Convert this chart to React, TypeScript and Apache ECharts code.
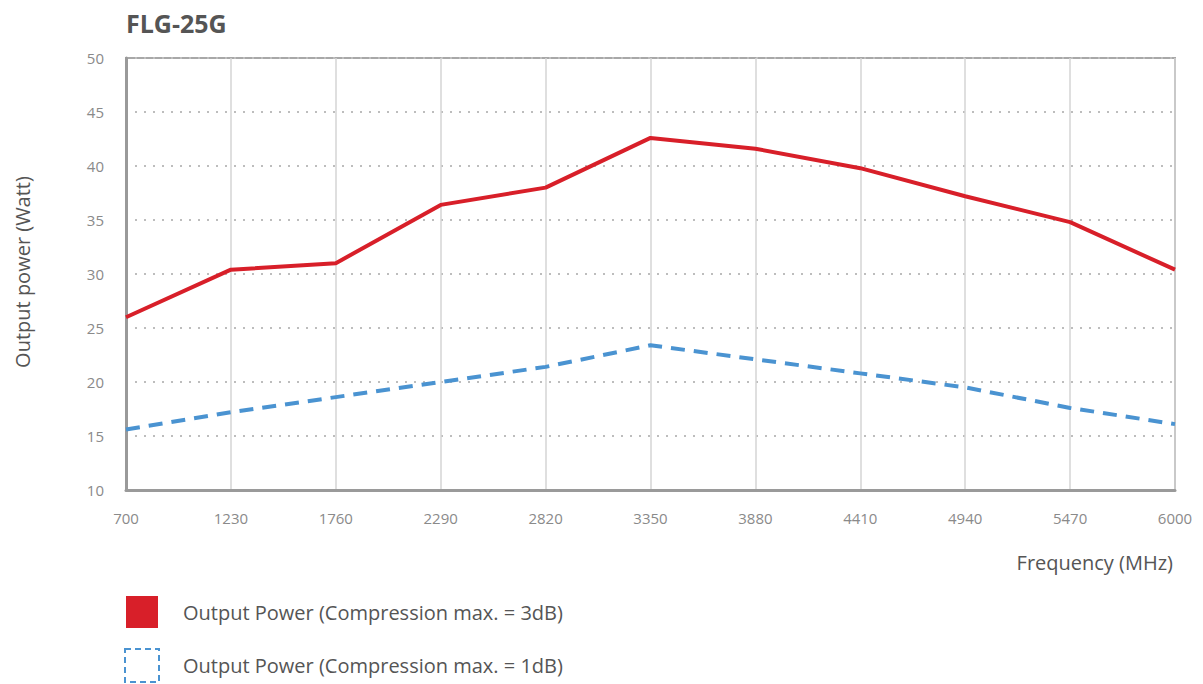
import React, { useEffect, useRef } from "react";
import * as echarts from "echarts";

const title = "FLG-25G";
const frequencies = ["700", "1230", "1760", "2290", "2820", "3350", "3880", "4410", "4940", "5470", "6000"];
const power3dB = [26.0, 30.4, 31.0, 36.4, 38.0, 42.6, 41.6, 39.8, 37.2, 34.8, 30.4];
const power1dB = [15.6, 17.2, 18.6, 20.0, 21.4, 23.4, 22.1, 20.8, 19.5, 17.6, 16.1];
const seriesNames = ["Output Power (Compression max. = 3dB)", "Output Power (Compression max. = 1dB)"];
const yAxisName = "Output power (Watt)";
const xAxisName = "Frequency (MHz)";

const FONT = "'Open Sans', 'Noto Sans', sans-serif";
const RED = "#d81f29";
const BLUE = "#4a93d1";

export default function App() {
  const ref = useRef<HTMLDivElement>(null);
  useEffect(() => {
    if (!ref.current) return;
    const chart = echarts.init(ref.current, undefined, { renderer: "svg" });
    chart.setOption({
      animation: false,
      backgroundColor: "#ffffff",
      grid: {
        left: 126,
        right: 28,
        top: 58,
        bottom: 194,
        show: true,
        borderColor: "#a8a8a8",
        borderWidth: 2,
      },
      xAxis: {
        type: "category",
        data: frequencies,
        boundaryGap: false,
        axisLine: { show: true, lineStyle: { color: "#9a9a9a", width: 3 } },
        axisTick: { show: false },
        axisLabel: { color: "#8a8a8a", fontSize: 15, fontFamily: FONT, margin: 20 },
        splitLine: { show: true, lineStyle: { color: "#d4d4d4", width: 1.5 } },
      },
      yAxis: {
        type: "value",
        min: 10,
        max: 50,
        interval: 5,
        axisLine: { show: true, lineStyle: { color: "#9a9a9a", width: 3 } },
        axisTick: { show: false },
        axisLabel: { color: "#8a8a8a", fontSize: 15, fontFamily: FONT, margin: 22 },
        splitLine: { show: true, lineStyle: { color: "#bdbdbd", width: 2, type: [2, 7] } },
      },
      series: [
        {
          name: seriesNames[0],
          type: "line",
          data: power3dB,
          symbol: "none",
          lineStyle: { color: RED, width: 4 },
          z: 3,
        },
        {
          name: seriesNames[1],
          type: "line",
          data: power1dB,
          symbol: "none",
          lineStyle: { color: BLUE, width: 4, type: [14, 9] },
          z: 3,
        },
      ],
      graphic: [
        {
          type: "text",
          left: 126,
          top: 10,
          style: { text: title, font: `bold 25px ${FONT}`, fill: "#555555" },
        },
        {
          type: "text",
          x: 22,
          y: 272,
          rotation: Math.PI / 2,
          style: {
            text: yAxisName,
            font: `20px ${FONT}`,
            fill: "#555555",
            align: "center",
            verticalAlign: "middle",
          },
        },
        {
          type: "text",
          x: 1173,
          y: 562,
          style: {
            text: xAxisName,
            font: `20px ${FONT}`,
            fill: "#555555",
            align: "right",
            verticalAlign: "middle",
          },
        },
        {
          type: "rect",
          shape: { x: 126, y: 596, width: 32, height: 32 },
          style: { fill: RED },
        },
        {
          type: "text",
          x: 183,
          y: 612,
          style: {
            text: seriesNames[0],
            font: `20px ${FONT}`,
            fill: "#555555",
            verticalAlign: "middle",
          },
        },
        {
          type: "rect",
          shape: { x: 125, y: 649, width: 34, height: 33 },
          style: { fill: "none", stroke: BLUE, lineWidth: 2, lineDash: [6, 4] },
        },
        {
          type: "text",
          x: 183,
          y: 665,
          style: {
            text: seriesNames[1],
            font: `20px ${FONT}`,
            fill: "#555555",
            verticalAlign: "middle",
          },
        },
      ],
    });
    return () => chart.dispose();
  }, []);
  return <div ref={ref} style={{ position: "fixed", left: 0, top: 0, width: 1203, height: 684 }} />;
}
